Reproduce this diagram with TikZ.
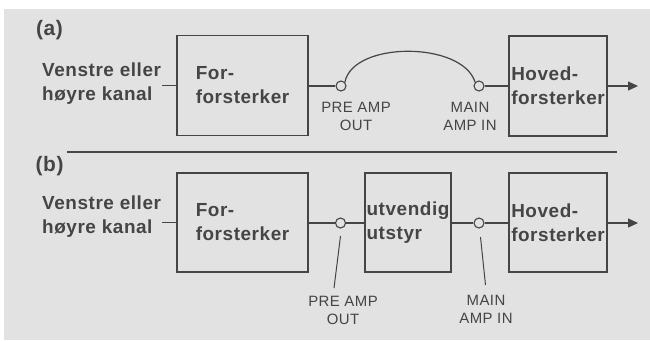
\documentclass[tikz,border=0pt]{standalone}
\usepackage{fontspec}
\setmainfont{Liberation Sans}[LetterSpace=3]
\usetikzlibrary{arrows.meta}
\definecolor{bg}{HTML}{E2E2E2}
\definecolor{ink}{HTML}{454545}
\newcommand\lblfont{\bfseries\fontsize{19}{24}\selectfont}
\newcommand\tagfont{\fontsize{15}{18}\selectfont}
\begin{document}
\begin{tikzpicture}[x=1bp,y=-1bp,
  blk/.style={draw=ink, line width=1.2bp, align=left, font=\lblfont, text=ink, inner sep=0pt},
  side/.style={align=left, font=\lblfont, text=ink, inner sep=1bp, anchor=west},
  tag/.style={align=center, font=\tagfont, text=ink, inner sep=0pt},
  jack/.style={circle, draw=ink, fill=bg, minimum size=10bp, inner sep=0pt, line width=1.1bp},
  wire/.style={draw=ink, line width=1.2bp},
  lead/.style={draw=ink, line width=1bp},
  arr/.style={wire, -{Triangle[length=10bp,width=9bp]}},
  part/.style={font=\bfseries\fontsize{21}{24}\selectfont, text=ink, inner sep=0pt}]
\useasboundingbox (0,0) rectangle (650,340);
\fill[white] (0,0) rectangle (650,340);
\fill[bg] (4,9) rectangle (650,340);

% ---------- (a)
\node[part] (pa) at (49.5,30) {(a)};
\node[side] (la) at (41,84) {Venstre eller\\høyre kanal};
\node[blk, minimum width=131bp, minimum height=100bp] (fa) at (242.5,85.5) {For-\\forsterker};
\node[jack] (ja) at (341,86) {};
\node[jack] (ka) at (479,86) {};
\node[blk, minimum width=98bp, minimum height=100bp] (ha) at (558,86) {Hoved-\\forsterker};
\coordinate (ea) at (638,86);
\node[tag] (ta1) at (356,116) {PRE AMP\\OUT};
\node[tag] (ta2) at (470,116.5) {MAIN\\AMP IN};

\draw[wire] (la.east |- fa.west) -- (fa.west);
\draw[wire] (fa.east |- ja.west) -- (ja.west);
\draw[wire] (ja.north east) .. controls (353,41) and (462,41) .. (ka.north west);
\draw[wire] (ka.east) -- (ka.east -| ha.west);
\draw[arr] (ha.east |- ea) -- (ea);

% separator
\coordinate (s1) at (67,152);
\coordinate (s2) at (617,152);
\draw[wire] (s1) -- (s2);

% ---------- (b)
\node[part] (pb) at (49.5,166) {(b)};
\node[side] (lb) at (41,216.5) {Venstre eller\\høyre kanal};
\node[blk, minimum width=131bp, minimum height=99bp] (fb) at (242.5,222.5) {For-\\forsterker};
\node[jack] (jb) at (340.5,223) {};
\node[blk, minimum width=86bp, minimum height=99bp] (ub) at (408,222.5) {utvendig\\utstyr};
\node[jack] (kb) at (479,223) {};
\node[blk, minimum width=98bp, minimum height=99bp] (hb) at (558,222.5) {Hoved-\\forsterker};
\coordinate (eb) at (638,223);
\node[tag] (tb1) at (343,310.5) {PRE AMP\\OUT};
\node[tag] (tb2) at (486,309.5) {MAIN\\AMP IN};
\coordinate (l1a) at (340.5,236);
\coordinate (l1b) at (334,288);
\coordinate (l2a) at (480.5,237);
\coordinate (l2b) at (485.5,285);

\draw[wire] (lb.east |- fb.west) -- (fb.west);
\draw[wire] (fb.east |- jb.west) -- (jb.west);
\draw[wire] (jb.east) -- (jb.east -| ub.west);
\draw[wire] (ub.east |- kb.west) -- (kb.west);
\draw[wire] (kb.east) -- (kb.east -| hb.west);
\draw[arr] (hb.east |- eb) -- (eb);
\draw[lead] (l1a) -- (l1b);
\draw[lead] (l2a) -- (l2b);
\end{tikzpicture}
\end{document}
